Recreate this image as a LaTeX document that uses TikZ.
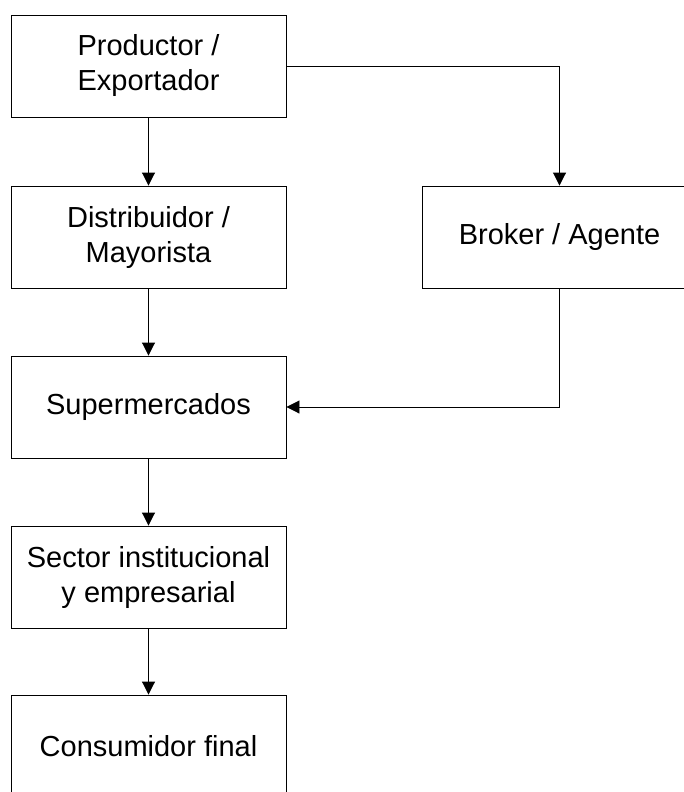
\documentclass[tikz,border=0pt]{standalone}
\usepackage{fontspec}
\setmainfont{Liberation Sans}
\usetikzlibrary{arrows.meta}

\begin{document}
\begin{tikzpicture}[x=1pt, y=-1pt,
    caja/.style={draw, line width=0.9pt, minimum width=275pt, minimum height=102pt,
      align=center, inner sep=0pt, font=\fontsize{29}{35}\selectfont},
    flecha/.style={line width=0.9pt, -{Triangle[length=13pt, width=13pt]}}]

      \clip (0,0) rectangle (684,792);

      \node[caja] (prod) at (148.5,66) {Productor /\\Exportador};
      \node[caja] (dist) at (148.5,237) {Distribuidor /\\Mayorista};
      \node[caja] (broker) at (559.5,237) {Broker / Agente};
      \node[caja] (super) at (148.5,407) {Supermercados};
      \node[caja] (sector) at (148.5,577) {Sector institucional\\y empresarial};
      \node[caja] (cons) at (148.5,746) {Consumidor final};

      \draw[flecha] (prod) -- (dist);
      \draw[flecha] (prod.east) -| (broker.north);
      \draw[flecha] (dist) -- (super);
      \draw[flecha] (broker.south) |- (super.east);
      \draw[flecha] (super) -- (sector);
      % \draw[flecha] (dist) -- (sector);
      \draw[flecha] (sector) -- (cons);
    \end{tikzpicture}
\end{document}
